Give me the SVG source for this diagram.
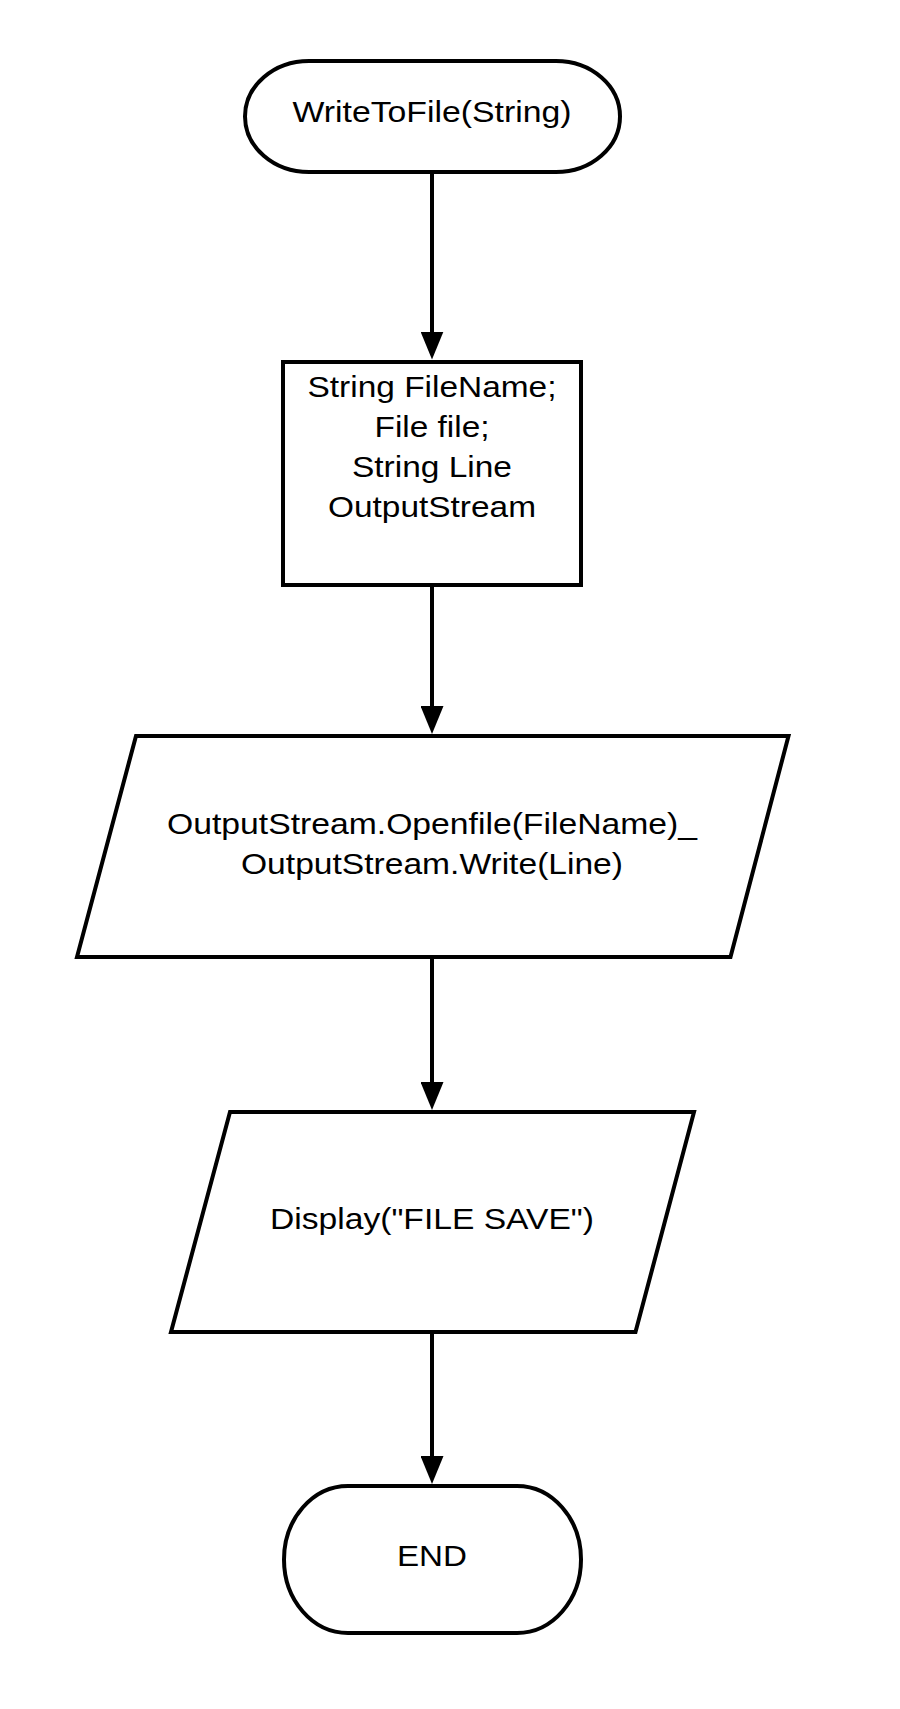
<svg xmlns="http://www.w3.org/2000/svg" width="900" height="1709" viewBox="0 0 900 1709">
  <style>
    .shape { fill: #ffffff; stroke: #000000; stroke-width: 4; }
    .conn { fill: none; stroke: #000000; stroke-width: 4; }
    .lbl { font-family: "Liberation Sans", Arial, sans-serif; font-size: 30px; fill: #000000; text-anchor: middle; }
  </style>
  <defs>
    <marker id="arrow" viewBox="0 0 28 23" refX="8" refY="11.5" markerWidth="28" markerHeight="23" markerUnits="userSpaceOnUse" orient="auto">
      <path d="M0,0 L28,11.5 L0,23 Z" fill="#000000"/>
    </marker>
  </defs>
  <rect width="900" height="1709" fill="#ffffff"/>

  <g id="connectors">
    <line class="conn" x1="432" y1="174" x2="432" y2="339.5" marker-end="url(#arrow)"/>
    <line class="conn" x1="432" y1="587" x2="432" y2="714" marker-end="url(#arrow)"/>
    <line class="conn" x1="432" y1="959" x2="432" y2="1090" marker-end="url(#arrow)"/>
    <line class="conn" x1="432" y1="1334" x2="432" y2="1464" marker-end="url(#arrow)"/>
  </g>

  <g id="node-start">
    <rect class="shape" x="245" y="61" width="375" height="111" rx="64" ry="55.5"/>
    <text class="lbl" x="432" y="122" textLength="279" lengthAdjust="spacingAndGlyphs">WriteToFile(String)</text>
  </g>

  <g id="node-declare">
    <rect class="shape" x="283" y="362" width="298" height="223"/>
    <text class="lbl" x="432" y="397" textLength="249" lengthAdjust="spacingAndGlyphs">String FileName;</text>
    <text class="lbl" x="432" y="437" textLength="115" lengthAdjust="spacingAndGlyphs">File file;</text>
    <text class="lbl" x="432" y="477" textLength="160" lengthAdjust="spacingAndGlyphs">String Line</text>
    <text class="lbl" x="432" y="517" textLength="208" lengthAdjust="spacingAndGlyphs">OutputStream</text>
  </g>

  <g id="node-write">
    <polygon class="shape" points="136,736 788.5,736 730.5,957 77,957"/>
    <text class="lbl" x="432" y="834" textLength="530" lengthAdjust="spacingAndGlyphs">OutputStream.Openfile(FileName)_</text>
    <text class="lbl" x="432" y="874" textLength="382" lengthAdjust="spacingAndGlyphs">OutputStream.Write(Line)</text>
  </g>

  <g id="node-display">
    <polygon class="shape" points="230,1112 694,1112 635.5,1332 171,1332"/>
    <text class="lbl" x="432" y="1228.5" textLength="324" lengthAdjust="spacingAndGlyphs">Display("FILE SAVE")</text>
  </g>

  <g id="node-end">
    <rect class="shape" x="284" y="1486" width="297" height="147" rx="64" ry="73.5"/>
    <text class="lbl" x="432" y="1566" textLength="70" lengthAdjust="spacingAndGlyphs">END</text>
  </g>
</svg>
